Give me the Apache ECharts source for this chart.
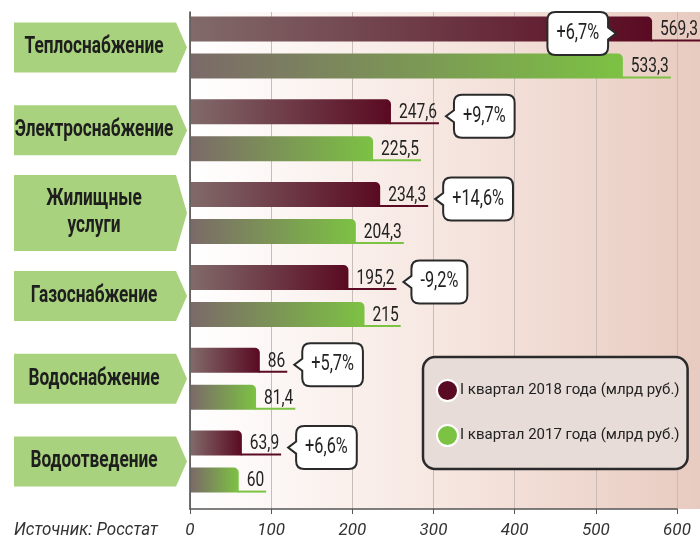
<!DOCTYPE html>
<html><head><meta charset="utf-8">
<script src="https://cdn.jsdelivr.net/npm/echarts@6/dist/echarts.min.js"></script>
<style>html,body{margin:0;padding:0;background:#fff}#c{width:700px;height:541px}</style>
</head><body><div id="c"></div>
<script>
// ---- data ----
const categories = ['Теплоснабжение', 'Электроснабжение', 'Жилищные\nуслуги', 'Газоснабжение', 'Водоснабжение', 'Водоотведение'];
const values2018 = [569.3, 247.6, 234.3, 195.2, 86, 63.9];
const values2017 = [533.3, 225.5, 204.3, 215, 81.4, 60];
const changes = ['+6,7%', '+9,7%', '+14,6%', '-9,2%', '+5,7%', '+6,6%'];
const seriesNames = ['I квартал 2018 года (млрд руб.)', 'I квартал 2017 года (млрд руб.)'];
const xTicks = [0, 100, 200, 300, 400, 500, 600];
const sourceText = 'Источник: Росстат';

// ---- rendering ----
const FONT = 'Roboto, "Noto Sans", sans-serif';
const S = 0.74; // horizontal condensing of text
const mctx = document.createElement('canvas').getContext('2d');
function tw(text, size, weight, style) { mctx.font = (style || 'normal') + ' ' + (weight || 'normal') + ' ' + size + 'px ' + FONT; return mctx.measureText(text).width; }
const fmt = v => String(v).replace('.', ',');
const ROW_SHIFT = -6;
const GRID_LEFT = 190, GRID_RIGHT_X = 677;

function stext(text, x, y, size, o) {
  o = o || {};
  return { type: 'text', x, y, scaleX: o.scale || S, z2: o.z2 || 10,
    style: { text, x: 0, y: 0, align: o.align || 'left', verticalAlign: o.va || 'middle',
      font: (o.italic ? 'italic ' : '') + (o.weight || 'normal') + ' ' + size + 'px ' + FONT,
      fill: o.fill || '#222', lineHeight: o.lineHeight } };
}

const chart = echarts.init(document.getElementById('c'), null, { renderer: 'canvas' });

function calloutPath(l, t, w, h, side) {
  const r = 8, R = l + w, B = t + h, cy = t + h / 2;
  if (side === 'left') {
    return `M${l + r},${t} H${R - r} Q${R},${t} ${R},${t + r} V${B - r} Q${R},${B} ${R - r},${B} H${l + r} Q${l},${B} ${l},${B - r} V${cy + 6} L${l - 8},${cy} L${l},${cy - 6} V${t + r} Q${l},${t} ${l + r},${t} Z`;
  }
  return `M${l + r},${t} H${R - r} Q${R},${t} ${R},${t + r} V${cy - 6} L${R + 8},${cy} L${R},${cy + 6} V${B - r} Q${R},${B} ${R - r},${B} H${l + r} Q${l},${B} ${l},${B - r} V${t + r} Q${l},${t} ${l + r},${t} Z`;
}

function makeBarRender(kind) {
  return function (params, api) {
    const v = api.value(0), idx = api.value(1);
    const base = api.coord([0, idx]);
    const end = api.coord([v, idx]);
    const cy = base[1] + ROW_SHIFT;
    const h = 25;
    const top = kind === 0 ? cy - 31 : cy + 6;
    const x0 = base[0] + 1, x1 = end[0];
    const colors = kind === 0 ? ['#816a6a', '#5a0a22'] : ['#7b6a68', '#7cc243'];
    const label = fmt(v);
    const lw = tw(label, 21) * S;
    const lx = x1 + 8;
    const children = [
      { type: 'rect', shape: { x: x0, y: top, width: x1 - x0, height: h, r: [0, 5, 0, 0] },
        style: { fill: new echarts.graphic.LinearGradient(0, 0, 1, 0, [{ offset: 0, color: colors[0] }, { offset: 1, color: colors[1] }]) } },
      { type: 'line', shape: { x1: x1 - 1, y1: top + h - 1, x2: lx + lw + 2, y2: top + h - 1 }, style: { stroke: colors[1], lineWidth: 2 } },
      stext(label, lx, top + h - 1, 21, { va: 'bottom' })
    ];
    if (kind === 0) {
      const ct = changes[idx];
      const ctw = tw(ct, 22) * S;
      const cw = ctw + 18, ch = 43;
      const ccy = cy - 14;
      let l, side;
      if (lx + lw + 17 + cw > GRID_RIGHT_X) { side = 'right'; l = x1 - 44 - cw; }
      else { side = 'left'; l = lx + lw + 17; }
      children.push({ type: 'path', shape: { pathData: calloutPath(l, ccy - ch / 2, cw, ch, side) }, style: { fill: '#fff', stroke: '#2a2a2a', lineWidth: 2 } });
      children.push(stext(ct, l + cw / 2, ccy, 22, { align: 'center' }));
    }
    return { type: 'group', children };
  };
}

function catRender(params, api) {
  const idx = api.value(1);
  const cy = api.coord([0, idx])[1] + ROW_SHIFT;
  const text = categories[idx];
  const hh = text.indexOf('\n') >= 0 ? 38 : 25;
  return { type: 'group', children: [
    { type: 'polygon', shape: { points: [[14, cy - hh], [176, cy - hh], [187, cy], [176, cy + hh], [14, cy + hh]] }, style: { fill: '#a8d27d' } },
    stext(text, 94, cy, 23, { align: 'center', weight: 'bold', lineHeight: 27, fill: '#1e1e1e', scale: 0.75 })
  ] };
}

const legendTarget = 232;
const legendFont = Math.floor(20 * legendTarget / tw(seriesNames[0], 20));

const option = {
  animation: false,
  graphic: [
    { type: 'rect', z: -10, shape: { x: GRID_LEFT, y: 12, width: 700 - GRID_LEFT, height: 497 },
      style: { fill: new echarts.graphic.LinearGradient(0, 0, 1, 0, [{ offset: 0, color: '#ffffff' }, { offset: 0.5, color: '#f6e6e0' }, { offset: 1, color: '#e8cbc0' }]) } },
    { type: 'text', x: 14, y: 530, scaleX: 144 / tw(sourceText, 19, 'normal', 'italic'),
      style: { text: sourceText, x: 0, y: 0, verticalAlign: 'middle', font: 'italic 19px ' + FONT, fill: '#333' } }
  ],
  legend: {
    data: seriesNames,
    orient: 'vertical', left: 423, top: 357,
    padding: [22, 8, 22, 13], itemGap: 22,
    itemWidth: 21, itemHeight: 21, icon: 'circle',
    backgroundColor: '#e7dcd8', borderColor: '#2a2a2a', borderWidth: 2.5, borderRadius: 12,
    itemStyle: { borderColor: '#fff', borderWidth: 2 },
    textStyle: { fontFamily: FONT, fontSize: legendFont, color: '#222', padding: [0, 0, 0, -3] }
  },
  grid: { left: GRID_LEFT, right: 700 - GRID_RIGHT_X, top: 12, height: 497 },
  xAxis: {
    type: 'value', min: xTicks[0], max: xTicks[xTicks.length - 1], interval: 100,
    axisLine: { show: true, lineStyle: { color: '#555', width: 1.5 } },
    axisTick: { show: true, length: 5, lineStyle: { color: '#555' } },
    axisLabel: { fontFamily: FONT, fontStyle: 'italic', fontSize: 17, color: '#333', margin: 13 },
    splitLine: { show: true, lineStyle: { color: '#c9bcb8', width: 1 } }
  },
  yAxis: {
    type: 'category', data: categories, inverse: true,
    axisLine: { show: true, lineStyle: { color: '#444', width: 1.5 } },
    axisTick: { show: false }, axisLabel: { show: false }, splitLine: { show: false }
  },
  series: [
    { name: seriesNames[0], type: 'custom', renderItem: makeBarRender(0), itemStyle: { color: '#5a0a22' },
      data: values2018.map((v, i) => [v, i]), encode: { x: 0, y: 1 }, z: 3 },
    { name: seriesNames[1], type: 'custom', renderItem: makeBarRender(1), itemStyle: { color: '#7cc243' },
      data: values2017.map((v, i) => [v, i]), encode: { x: 0, y: 1 }, z: 2 },
    { name: 'cats', type: 'custom', renderItem: catRender, silent: true,
      data: categories.map((c, i) => [0, i]), encode: { x: 0, y: 1 }, z: 1 }
  ]
};
chart.setOption(option);
</script></body></html>
